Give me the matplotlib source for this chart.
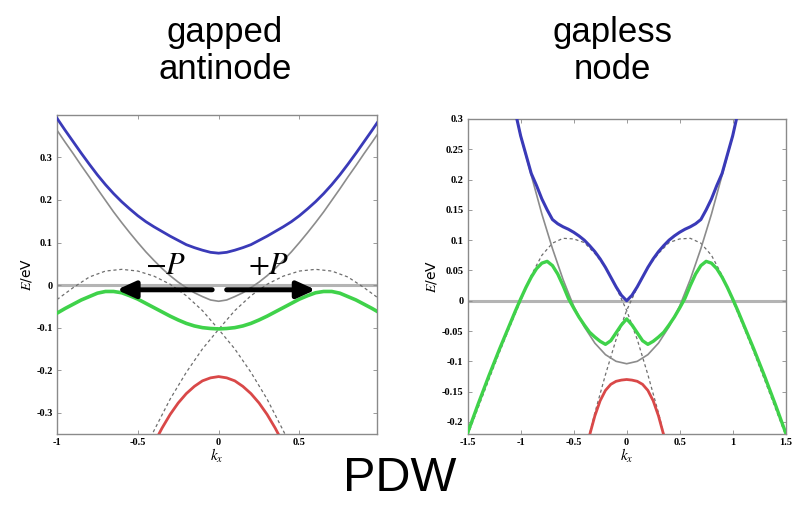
import matplotlib
matplotlib.use("Agg")
from matplotlib import pyplot as plt

plt.rcParams['mathtext.fontset'] = 'stix'

# ---- left panel: gapped antinode ----
k_left = [-1.0, -0.95, -0.9, -0.85, -0.8, -0.75, -0.7, -0.65, -0.6, -0.55, -0.5,
          -0.45, -0.4, -0.35, -0.3, -0.25, -0.2, -0.15, -0.1, -0.05, 0.0,
          0.05, 0.1, 0.15, 0.2, 0.25, 0.3, 0.35, 0.4, 0.45, 0.5,
          0.55, 0.6, 0.65, 0.7, 0.75, 0.8, 0.85, 0.9, 0.95, 1.0]
blue_left = [0.392, 0.364, 0.337, 0.310, 0.284, 0.259, 0.236, 0.215, 0.196, 0.179, 0.163,
             0.149, 0.137, 0.126, 0.115, 0.105, 0.095, 0.088, 0.082, 0.077, 0.075,
             0.077, 0.082, 0.088, 0.095, 0.105, 0.115, 0.126, 0.137, 0.149, 0.163,
             0.179, 0.196, 0.215, 0.236, 0.259, 0.284, 0.310, 0.337, 0.364, 0.392]
bare_left = [0.364, 0.336, 0.309, 0.281, 0.254, 0.226, 0.199, 0.172, 0.147, 0.123, 0.100,
             0.078, 0.058, 0.039, 0.022, 0.007, -0.006, -0.018, -0.027, -0.035, -0.038,
             -0.035, -0.027, -0.018, -0.006, 0.007, 0.022, 0.039, 0.058, 0.078, 0.100,
             0.123, 0.147, 0.172, 0.199, 0.226, 0.254, 0.281, 0.309, 0.336, 0.364]
green_left = [-0.066, -0.055, -0.045, -0.035, -0.027, -0.019, -0.015, -0.015, -0.018, -0.025, -0.033,
              -0.043, -0.053, -0.063, -0.073, -0.082, -0.090, -0.096, -0.100, -0.102, -0.103,
              -0.102, -0.100, -0.096, -0.090, -0.082, -0.073, -0.063, -0.053, -0.043, -0.033,
              -0.025, -0.018, -0.015, -0.015, -0.019, -0.027, -0.035, -0.045, -0.055, -0.066]

k_dash_a_left = [-1.0, -0.9, -0.8, -0.7, -0.6, -0.5, -0.4, -0.3, -0.2, -0.1, 0.0,
                 0.1, 0.2, 0.3, 0.4, 0.5]
dash_a_left = [-0.034, -0.006, 0.019, 0.033, 0.037, 0.033, 0.021, 0.002, -0.025, -0.060, -0.104,
               -0.150, -0.205, -0.268, -0.342, -0.420]
k_dash_b_left = [-0.5, -0.4, -0.3, -0.2, -0.1, 0.0, 0.1, 0.2, 0.3, 0.4, 0.5,
                 0.6, 0.7, 0.8, 0.9, 1.0]
dash_b_left = [-0.420, -0.342, -0.268, -0.205, -0.150, -0.104, -0.060, -0.025, 0.002, 0.021, 0.033,
               0.037, 0.033, 0.019, -0.006, -0.034]

k_red_left = [-0.4, -0.35, -0.3, -0.25, -0.2, -0.15, -0.1, -0.05, 0.0,
              0.05, 0.1, 0.15, 0.2, 0.25, 0.3, 0.35, 0.4]
red_left = [-0.372, -0.336, -0.304, -0.277, -0.255, -0.238, -0.225, -0.218, -0.215,
            -0.218, -0.225, -0.238, -0.255, -0.277, -0.304, -0.336, -0.372]

# arrows (tail k, head k, energy) and labels
arrow_minus = (-0.04, -0.63, -0.011)
arrow_plus = (0.05, 0.60, -0.011)
label_minus = (-0.33, 0.046, '$-P$')
label_plus = (0.31, 0.046, '$+P$')

# ---- right panel: gapless node ----
k_blue_right = [-1.15, -1.1, -1.0, -0.9, -0.85, -0.8, -0.75, -0.7, -0.65, -0.6, -0.55, -0.5,
                -0.45, -0.4, -0.35, -0.3, -0.25, -0.2, -0.15, -0.1, -0.05, 0.0,
                0.05, 0.1, 0.15, 0.2, 0.25, 0.3, 0.35, 0.4, 0.45, 0.5, 0.55, 0.6,
                0.65, 0.7, 0.75, 0.8, 0.85, 0.9, 1.0, 1.1, 1.15]
blue_right = [0.385, 0.350, 0.272, 0.210, 0.190, 0.168, 0.150, 0.134, 0.127, 0.122, 0.118, 0.113,
              0.107, 0.100, 0.091, 0.081, 0.069, 0.055, 0.039, 0.023, 0.009, 0.000,
              0.009, 0.023, 0.039, 0.055, 0.069, 0.081, 0.091, 0.100, 0.107, 0.113, 0.118, 0.122,
              0.127, 0.134, 0.150, 0.168, 0.190, 0.210, 0.272, 0.350, 0.385]

k_bare_right = [-1.15, -1.1, -1.0, -0.9, -0.8, -0.7, -0.6, -0.5, -0.4, -0.3, -0.2, -0.1, 0.0,
                0.1, 0.2, 0.3, 0.4, 0.5, 0.6, 0.7, 0.8, 0.9, 1.0, 1.1, 1.15]
bare_right = [0.385, 0.350, 0.272, 0.207, 0.143, 0.086, 0.035, -0.009, -0.043, -0.070, -0.089, -0.100, -0.104,
              -0.100, -0.089, -0.070, -0.043, -0.009, 0.035, 0.086, 0.143, 0.207, 0.272, 0.350, 0.385]

k_green_right = [-1.5, -1.4, -1.3, -1.2, -1.1, -1.05, -1.0, -0.95, -0.9, -0.85, -0.8, -0.75,
                 -0.7, -0.65, -0.6, -0.55, -0.5, -0.45, -0.4, -0.35, -0.3, -0.25, -0.2,
                 -0.15, -0.1, -0.05, 0.0, 0.05, 0.1, 0.15, 0.2, 0.25, 0.3, 0.35, 0.4,
                 0.45, 0.5, 0.55, 0.6, 0.65, 0.7, 0.75, 0.8, 0.85, 0.9, 0.95, 1.0,
                 1.05, 1.1, 1.2, 1.3, 1.4, 1.5]
green_right = [-0.218, -0.170, -0.124, -0.080, -0.038, -0.017, 0.003, 0.022, 0.039, 0.053, 0.062, 0.065,
               0.058, 0.044, 0.025, 0.004, -0.012, -0.027, -0.040, -0.052, -0.060, -0.067, -0.072,
               -0.066, -0.053, -0.040, -0.030, -0.040, -0.053, -0.066, -0.072, -0.067, -0.060, -0.052, -0.040,
               -0.027, -0.012, 0.004, 0.025, 0.044, 0.058, 0.065, 0.062, 0.053, 0.039, 0.022, 0.003,
               -0.017, -0.038, -0.080, -0.124, -0.170, -0.218]

k_dash_a_right = [-1.5, -1.4, -1.3, -1.2, -1.1, -1.0, -0.9, -0.8, -0.7, -0.6, -0.5,
                  -0.4, -0.3, -0.2, -0.1, 0.0, 0.1, 0.2, 0.3, 0.4]
dash_a_right = [-0.222, -0.176, -0.130, -0.085, -0.042, 0.000, 0.042, 0.075, 0.095, 0.103, 0.102,
                0.096, 0.078, 0.055, 0.022, -0.016, -0.064, -0.122, -0.185, -0.255]
k_dash_b_right = [-0.4, -0.3, -0.2, -0.1, 0.0, 0.1, 0.2, 0.3, 0.4, 0.5, 0.6,
                  0.7, 0.8, 0.9, 1.0, 1.1, 1.2, 1.3, 1.4, 1.5]
dash_b_right = [-0.255, -0.185, -0.122, -0.064, -0.016, 0.022, 0.055, 0.078, 0.096, 0.102, 0.103,
                0.095, 0.075, 0.042, 0.000, -0.042, -0.085, -0.130, -0.176, -0.222]

k_red_right = [-0.38, -0.35, -0.3, -0.25, -0.2, -0.15, -0.1, -0.05, 0.0,
               0.05, 0.1, 0.15, 0.2, 0.25, 0.3, 0.35, 0.38]
red_right = [-0.242, -0.222, -0.190, -0.165, -0.148, -0.138, -0.133, -0.131, -0.130,
             -0.131, -0.133, -0.138, -0.148, -0.165, -0.190, -0.222, -0.242]

# tick labels
xticks_left = [-1, -0.5, 0, 0.5]
xticklabels_left = ['-1', '-0.5', '0', '0.5']
yticks_left = [-0.3, -0.2, -0.1, 0, 0.1, 0.2, 0.3]
yticklabels_left = ['-0.3', '-0.2', '-0.1', '0', '0.1', '0.2', '0.3']
xticks_right = [-1.5, -1, -0.5, 0, 0.5, 1, 1.5]
xticklabels_right = ['-1.5', '-1', '-0.5', '0', '0.5', '1', '1.5']
yticks_right = [-0.2, -0.15, -0.1, -0.05, 0, 0.05, 0.1, 0.15, 0.2, 0.25, 0.3]
yticklabels_right = ['-0.2', '-0.15', '-0.1', '-0.05', '0', '0.05', '0.1', '0.15', '0.2', '0.25', '0.3']

blue = '#3a3ab8'
green = '#3fd24a'
red = '#d94848'
bare = '#8c8c8c'
dash = '#6e6e6e'
tick_font = dict(family='Liberation Serif', weight='bold', size=7.5)

fig = plt.figure(figsize=(7.94, 5.09), dpi=100)
ax1 = fig.add_axes([0.0718, 0.1473, 0.403, 0.627])
ax2 = fig.add_axes([0.589, 0.1473, 0.4005, 0.619])

# left panel
ax1.axhline(0, color='#b4b4b4', lw=2.2, zorder=1)
ax1.plot(k_dash_a_left, dash_a_left, color=dash, lw=0.9, dashes=(2.5, 2.2), zorder=2)
ax1.plot(k_dash_b_left, dash_b_left, color=dash, lw=0.9, dashes=(2.5, 2.2), zorder=2)
ax1.plot(k_left, bare_left, color=bare, lw=1.2, zorder=3)
ax1.plot(k_left, blue_left, color=blue, lw=2.0, zorder=4)
ax1.plot(k_left, green_left, color=green, lw=2.6, zorder=4)
ax1.plot(k_red_left, red_left, color=red, lw=2.0, zorder=4)
for tail, head, e in [arrow_minus, arrow_plus]:
    ax1.annotate('', xy=(head, e), xytext=(tail, e),
                 arrowprops=dict(arrowstyle='-|>,head_length=1.1,head_width=0.5',
                                 lw=3.6, color='black', shrinkA=0, shrinkB=0),
                 zorder=6)
for kx, e, s in [label_minus, label_plus]:
    ax1.text(kx, e, s, fontsize=22, ha='center', va='center', zorder=7)
ax1.set_xlim(-1, 0.98)
ax1.set_ylim(-0.35, 0.4)
ax1.set_xticks(xticks_left)
ax1.set_xticklabels(xticklabels_left, **tick_font)
ax1.set_yticks(yticks_left)
ax1.set_yticklabels(yticklabels_left, **tick_font)

# right panel
ax2.axhline(0, color='#b4b4b4', lw=2.2, zorder=1)
ax2.plot(k_dash_a_right, dash_a_right, color=dash, lw=0.9, dashes=(2.5, 2.2), zorder=2)
ax2.plot(k_dash_b_right, dash_b_right, color=dash, lw=0.9, dashes=(2.5, 2.2), zorder=2)
ax2.plot(k_bare_right, bare_right, color=bare, lw=1.2, zorder=3)
ax2.plot(k_green_right, green_right, color=green, lw=2.4, zorder=4)
ax2.plot(k_blue_right, blue_right, color=blue, lw=2.2, zorder=4)
ax2.plot(k_red_right, red_right, color=red, lw=2.0, zorder=4)
ax2.set_xlim(-1.5, 1.5)
ax2.set_ylim(-0.22, 0.3)
ax2.set_xticks(xticks_right)
ax2.set_xticklabels(xticklabels_right, **tick_font)
ax2.set_yticks(yticks_right)
ax2.set_yticklabels(yticklabels_right, **tick_font)

for ax in [ax1, ax2]:
    for sp in ax.spines.values():
        sp.set_color('#8a8a8a')
        sp.set_linewidth(1.0)
    ax.tick_params(direction='in', length=3, width=0.6, color='#8a8a8a',
                   top=True, right=True, pad=3)
    ax.set_ylabel('$E$/eV', fontsize=10, labelpad=2)
    ax.set_xlabel('$k_x$', fontsize=11, labelpad=0)

fig.text(0.283, 0.9, 'gapped\nantinode', fontsize=25, family='Liberation Sans',
         ha='center', va='center', linespacing=1.15)
fig.text(0.771, 0.9, 'gapless\nnode', fontsize=25, family='Liberation Sans',
         ha='center', va='center', linespacing=1.15)
fig.text(0.504, 0.06, 'PDW', fontsize=35, family='Liberation Sans',
         ha='center', va='center')

plt.savefig('out.png', dpi=100)
